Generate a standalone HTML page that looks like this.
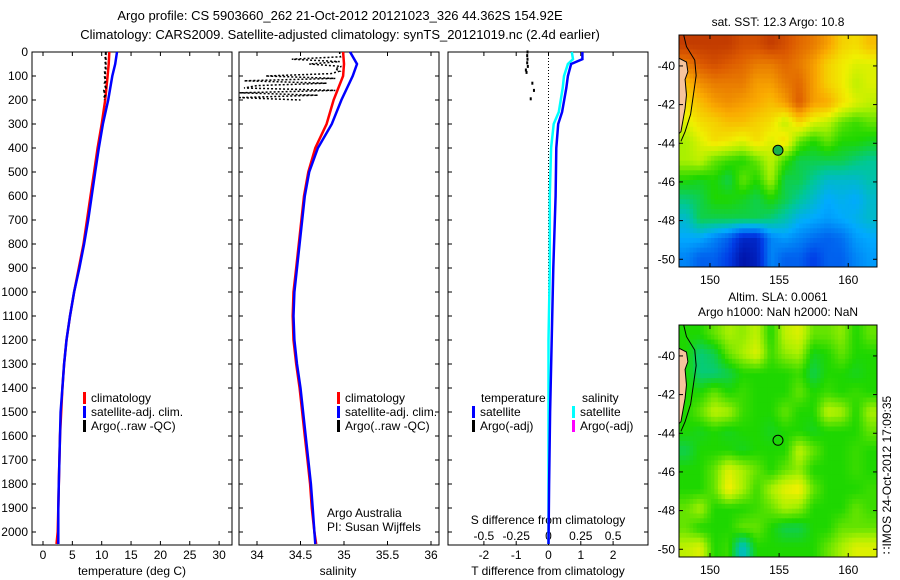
<!DOCTYPE html>
<html><head><meta charset="utf-8"><style>
body{margin:0;background:#fff}
svg{display:block;font-family:"Liberation Sans",sans-serif}
</style></head><body>
<svg id="c" width="900" height="580" viewBox="0 0 900 580" xmlns="http://www.w3.org/2000/svg">
<text x="340" y="20" font-size="13" text-anchor="middle">Argo profile: CS 5903660_262 21-Oct-2012 20121023_326 44.362S 154.92E</text>
<text x="340" y="39" font-size="13" text-anchor="middle">Climatology: CARS2009. Satellite-adjusted climatology: synTS_20121019.nc (2.4d earlier)</text>
<g id="g"></g>
</svg>
<script>
// ---- data ----
const depths = [0,50,100,200,300,400,500,600,700,800,900,1000,1100,1200,1300,1400,1500,1600,1700,1800,1900,2000,2050];
const tempClim = [11.3,11.2,11.0,10.6,10.0,9.3,8.7,8.1,7.5,6.9,6.1,5.3,4.6,4.0,3.6,3.3,3.1,2.9,2.8,2.7,2.6,2.5,2.3];
const tempSat = [12.6,12.3,11.8,11.1,10.2,9.5,8.9,8.3,7.7,7.0,6.2,5.3,4.6,4.0,3.6,3.3,3.0,2.9,2.8,2.7,2.6,2.6,2.6];
const salClim = [34.99,35.0,34.99,34.88,34.80,34.67,34.59,34.54,34.51,34.48,34.45,34.42,34.41,34.42,34.45,34.49,34.52,34.55,34.58,34.61,34.63,34.66,34.68];
const salSat = [35.07,35.15,35.1,34.97,34.86,34.70,34.60,34.55,34.52,34.49,34.46,34.43,34.42,34.43,34.46,34.50,34.53,34.56,34.59,34.62,34.64,34.66,34.67];
const argoDepths = [0,10,20,30,40,50,60,70,80,90,100,110,120,130,140,150,160,170,180,190,200];
const argoTemp = [10.7,10.7,10.6,10.7,10.6,10.7,10.6,10.7,10.5,10.6,10.5,10.6,10.7,10.5,10.6,10.7,10.4,10.5,10.6,10.4,10.5];
const argoSal = [34.95,34.95,34.96,34.4,34.95,34.6,34.97,34.9,34.95,34.85,34.1,34.9,33.85,34.8,34.0,33.85,34.9,33.8,34.7,33.8,34.5];
const diffDepths = [0,30,50,100,150,250,300,400,600,900,1200,1500,1800,2050];
const tDiffSat = [1.05,1.05,0.7,0.6,0.55,0.42,0.3,0.24,0.22,0.15,0.1,0.05,0.02,0.0];
const sDiffSat = [0.18,0.19,0.15,0.12,0.11,0.08,0.04,0.02,0.01,0.01,0.0,0.0,0.0,0.0];
const argoDiffDepths = [0,15,30,45,60,75,85,130,160,195];
const argoTDiff = [-0.65,-0.66,-0.65,-0.66,-0.64,-0.7,-0.68,-0.5,-0.45,-0.55];
const depthTicks = [0,100,200,300,400,500,600,700,800,900,1000,1100,1200,1300,1400,1500,1600,1700,1800,1900,2000];
const tTicks = [0,5,10,15,20,25,30];
const sTicks = [34,34.5,35,35.5,36];
const tdTicks = [-2,-1,0,1,2];
const sdTicks = ["-0.5","-0.25","0","0.25","0.5"];
const latTicks = [-40,-42,-44,-46,-48,-50];
const lonTicks = [150,155,160];
// SST colour index (0=dark blue .. 1=dark red), rows N->S, cols W->E (1 deg cells)
const sstGrid = [
[.95,.95,.95,.95,.92,.92,.95,.92,.88,.85,.8,.72,.7,.75],
[.85,.9,.92,.9,.88,.85,.85,.88,.85,.8,.72,.68,.65,.65],
[.75,.82,.85,.85,.85,.8,.8,.85,.88,.8,.72,.68,.62,.65],
[.7,.75,.8,.82,.8,.78,.75,.8,.9,.8,.78,.7,.65,.62],
[.65,.7,.72,.75,.75,.72,.7,.62,.72,.65,.62,.55,.52,.55],
[.6,.65,.7,.68,.65,.7,.65,.7,.55,.5,.55,.5,.5,.48],
[.6,.62,.55,.52,.5,.55,.62,.52,.45,.45,.45,.45,.42,.4],
[.5,.48,.5,.45,.55,.5,.6,.45,.45,.4,.35,.35,.35,.38],
[.42,.45,.5,.5,.48,.45,.5,.45,.4,.35,.3,.32,.3,.35],
[.35,.45,.45,.45,.45,.45,.42,.38,.32,.3,.28,.3,.32,.35],
[.3,.3,.25,.2,.1,.1,.25,.28,.25,.22,.2,.22,.28,.3],
[.25,.2,.2,.15,.05,.08,.25,.2,.2,.15,.2,.2,.25,.28]];
const slaGrid = [
[.5,.5,.55,.6,.58,.62,.5,.62,.65,.55,.55,.58,.5,.55],
[.5,.42,.45,.55,.6,.65,.52,.58,.6,.48,.5,.55,.5,.5],
[.5,.42,.42,.45,.5,.5,.5,.5,.52,.45,.5,.5,.48,.5],
[.5,.5,.55,.5,.52,.5,.5,.5,.55,.5,.52,.5,.52,.5],
[.5,.55,.62,.6,.52,.5,.5,.55,.5,.5,.62,.6,.5,.6],
[.5,.48,.5,.48,.5,.5,.48,.5,.5,.48,.5,.5,.5,.55],
[.45,.5,.5,.5,.48,.5,.5,.5,.62,.55,.5,.5,.52,.5],
[.5,.5,.55,.65,.6,.55,.5,.55,.58,.5,.5,.5,.52,.5],
[.5,.5,.55,.68,.6,.52,.6,.66,.68,.55,.5,.5,.5,.52],
[.55,.6,.5,.5,.5,.52,.55,.6,.58,.5,.5,.5,.55,.52],
[.55,.5,.5,.5,.55,.55,.5,.45,.45,.5,.5,.55,.55,.55],
[.62,.65,.5,.52,.35,.5,.5,.5,.5,.5,.55,.6,.65,.65]];
const argoLon = 154.92, argoLat = -44.362;

// ---- helpers ----
const NS="http://www.w3.org/2000/svg", G=document.getElementById('g');
function mk(tag,at,parent){const e=document.createElementNS(NS,tag);for(const k in at)e.setAttribute(k,at[k]);(parent||G).appendChild(e);return e;}
const yD = d => 52 + d*0.24;
const xT = t => 43 + t*5.87;
const xS = s => 257 + (s-34)*87;
const xTD = v => 548.5 + v*32.3;
const xSD = v => 548.5 + v*129.2;
function line(xs,ys,col,w,name,dash){
  const pts=xs.map((x,i)=>x.toFixed(1)+','+ys[i].toFixed(1)).join(' ');
  const p=mk('polyline',{points:pts,fill:'none',stroke:col,'stroke-width':w});
  if(dash)p.setAttribute('stroke-dasharray',dash);
  
  
  return p;
}
function txt(x,y,s,anchor,name,fs){
  const t=mk('text',{x:x,y:y,'font-size':fs||12,'text-anchor':anchor||'start'});t.textContent=s;
  
  
  return t;
}
function panel(x0,x1,name){
  const r=mk('rect',{x:x0,y:52,width:x1-x0,height:493,fill:'none',stroke:'#000','stroke-width':1});
  
  
  depthTicks.forEach(d=>{mk('line',{x1:x0,x2:x0+4,y1:yD(d),y2:yD(d),stroke:'#000'});mk('line',{x1:x1-4,x2:x1,y1:yD(d),y2:yD(d),stroke:'#000'});});
}
// panels
panel(32,232,'temperature-panel');
depthTicks.forEach(d=>txt(28,yD(d)+4,String(d),'end','depth-tick-label'));
tTicks.forEach(t=>{mk('line',{x1:xT(t),x2:xT(t),y1:545,y2:541,stroke:'#000'});mk('line',{x1:xT(t),x2:xT(t),y1:52,y2:56,stroke:'#000'});txt(xT(t),559,String(t),'middle','temp-tick-label');});
txt(132,575,'temperature (deg C)','middle','temp-axis-title');
line(tempClim.map(xT),depths.map(yD),'#f00',2.5,'temp-climatology-line');
line(tempSat.map(xT),depths.map(yD),'#00f',2.5,'temp-satellite-line');
line(argoTemp.map(xT),argoDepths.map(yD),'#000',2,'temp-argo-line','3,2');

panel(239,439,'salinity-panel');
sTicks.forEach(s=>{mk('line',{x1:xS(s),x2:xS(s),y1:545,y2:541,stroke:'#000'});mk('line',{x1:xS(s),x2:xS(s),y1:52,y2:56,stroke:'#000'});txt(xS(s),559,String(s),'middle','sal-tick-label');});
txt(338,575,'salinity','middle','sal-axis-title');
line(argoSal.map(xS),argoDepths.map(yD),'#000',1.5,'sal-argo-line','2,2');
line(salClim.map(xS),depths.map(yD),'#f00',2.5,'sal-climatology-line');
line(salSat.map(xS),depths.map(yD),'#00f',2.5,'sal-satellite-line');

panel(448,648,'difference-panel');
tdTicks.forEach(v=>{mk('line',{x1:xTD(v),x2:xTD(v),y1:545,y2:541,stroke:'#000'});mk('line',{x1:xTD(v),x2:xTD(v),y1:52,y2:56,stroke:'#000'});txt(xTD(v),559,String(v),'middle','tdiff-tick-label');});
sdTicks.forEach(v=>txt(xSD(parseFloat(v)),540,v,'middle','sdiff-tick-label'));
mk('line',{x1:548.5,x2:548.5,y1:52,y2:545,stroke:'#000','stroke-dasharray':'1,2'});
txt(548,575,'T difference from climatology','middle','tdiff-axis-title');
txt(548,524,'S difference from climatology','middle','sdiff-axis-title');
line(sDiffSat.map(xSD),diffDepths.map(yD),'#0ff',2.5,'sdiff-satellite-line');
line(tDiffSat.map(xTD),diffDepths.map(yD),'#00f',2.5,'tdiff-satellite-line');
argoTDiff.forEach((v,i)=>{const c=mk('rect',{x:xTD(v)-1,y:yD(argoDiffDepths[i])-1.5,width:2,height:3,fill:'#000'});
  
  });

// legends
function leg(x,y,col,s){mk('rect',{x:x,y:y-10,width:3,height:12,fill:col});txt(x+8,y,s,'start','legend-entry');}
leg(83,402,'#f00','climatology');leg(83,416,'#00f','satellite-adj. clim.');leg(83,430,'#000','Argo(..raw -QC)');
leg(337,402,'#f00','climatology');leg(337,416,'#00f','satellite-adj. clim.');leg(337,430,'#000','Argo(..raw -QC)');
txt(481,402,'temperature','start','legend-heading');txt(582,402,'salinity','start','legend-heading');
leg(472,416,'#00f','satellite');leg(472,430,'#000','Argo(-adj)');
leg(572,416,'#0ff','satellite');leg(572,430,'#f0f','Argo(-adj)');
txt(327,517,'Argo Australia','start','credit-text');txt(327,531,'PI: Susan Wijffels','start','credit-text');

// ---- maps ----
function jet(v){const st=[[0,[0,0,140]],[.15,[0,60,230]],[.3,[0,170,255]],[.4,[0,200,150]],[.5,[30,215,0]],[.6,[170,240,0]],[.67,[240,240,0]],[.78,[250,170,0]],[.9,[220,90,0]],[1,[170,30,0]]];
  for(let i=1;i<st.length;i++){if(v<=st[i][0]){const a=st[i-1],b=st[i],f=(v-a[0])/(b[0]-a[0]);return 'rgb('+a[1].map((c,k)=>Math.round(c+(b[1][k]-c)*f)).join(',')+')';}}return 'rgb(170,30,0)';}
function sample(grid,r,c){ // bilinear at fractional cell-center coords
  const R=grid.length,C=grid[0].length;
  r=Math.max(0,Math.min(R-1,r));c=Math.max(0,Math.min(C-1,c));
  const r0=Math.floor(r),c0=Math.floor(c),r1=Math.min(R-1,r0+1),c1=Math.min(C-1,c0+1),fr=r-r0,fc=c-c0;
  return grid[r0][c0]*(1-fr)*(1-fc)+grid[r0][c1]*(1-fr)*fc+grid[r1][c0]*fr*(1-fc)+grid[r1][c1]*fr*fc;
}
function map(top,bot,grid,title1,title2,fillCircle,name){
  const L=679,R=877,lon0=147.76,lon1=162.08,lat0=-38.4,lat1=-50.4;
  const xL=lo=>L+(lo-lon0)/(lon1-lon0)*(R-L);
  const yL=la=>top+(la-lat0)/(lat1-lat0)*(bot-top);
  const rows=grid.length, cols=grid[0].length, sub=4;
  const cw=(R-L)/cols/sub, ch=(bot-top)/rows/sub;
  for(let i=0;i<rows*sub;i++)for(let j=0;j<cols*sub;j++){
    const v=sample(grid,(i+0.5)/sub-0.5,(j+0.5)/sub-0.5);
    const c=mk('rect',{x:(L+j*cw).toFixed(2),y:(top+i*ch).toFixed(2),width:(cw+0.4).toFixed(2),height:(ch+0.4).toFixed(2),fill:jet(v)});
    
    
  }
  const land=mk('polygon',{points:[[147.76,-39.6],[148.3,-39.8],[148.4,-40.3],[148.2,-40.7],[148.3,-41.5],[148.2,-42.2],[148.0,-43.0],[147.9,-43.4],[147.76,-43.5]].map(p=>xL(p[0])+','+yL(p[1])).join(' '),fill:'#f6c49c',stroke:'#000','stroke-width':1});
  
  
  mk('polyline',{points:[[148.1,-38.4],[148.3,-39.0],[148.9,-39.7],[149.0,-40.5],[148.8,-41.5],[148.6,-42.5],[148.2,-43.4],[147.9,-43.9]].map(p=>xL(p[0])+','+yL(p[1])).join(' '),fill:'none',stroke:'#000','stroke-width':1});
  const fr=mk('rect',{x:L,y:top,width:R-L,height:bot-top,fill:'none',stroke:'#000'});
  
  
  latTicks.forEach(la=>{mk('line',{x1:L,x2:L+4,y1:yL(la),y2:yL(la),stroke:'#000'});mk('line',{x1:R-4,x2:R,y1:yL(la),y2:yL(la),stroke:'#000'});txt(L-4,yL(la)+4,String(la),'end','lat-tick-label');});
  lonTicks.forEach(lo=>{mk('line',{x1:xL(lo),x2:xL(lo),y1:bot,y2:bot-4,stroke:'#000'});mk('line',{x1:xL(lo),x2:xL(lo),y1:top,y2:top+4,stroke:'#000'});txt(xL(lo),bot+17,String(lo),'middle','lon-tick-label');});
  const c=mk('circle',{cx:xL(argoLon),cy:yL(argoLat),r:5,fill:fillCircle,stroke:'#000','stroke-width':1});
  
  
  if(title1)txt(778,top-(title2?24:9),title1,'middle','map-title');
  if(title2)txt(778,top-9,title2,'middle','map-subtitle');
}
map(35,267,sstGrid,'sat. SST: 12.3 Argo: 10.8',null,'#1ab04a','sst-map');
map(325,557,slaGrid,'Altim. SLA: 0.0061','Argo h1000: NaN h2000: NaN','none','sla-map');
const v=txt(0,0,'\u2237IMOS 24-Oct-2012 17:09:35','middle','timestamp-label');
v.setAttribute('transform','translate(891,475) rotate(-90)');
</script>
</body></html>
